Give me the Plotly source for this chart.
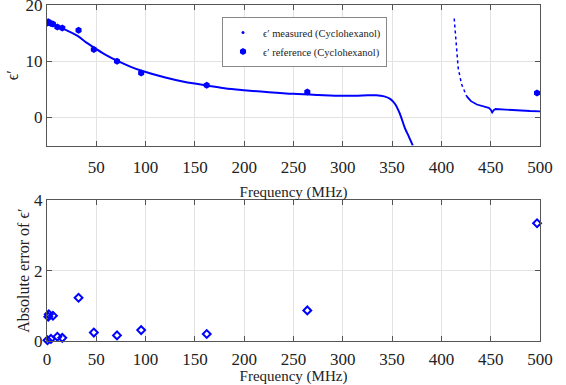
import plotly.graph_objects as go
from plotly.subplots import make_subplots

# Measured permittivity (dense sweep)
meas_freq_left = [0.5, 1, 5, 10, 20, 31, 40, 48, 60, 71, 85, 96, 120, 140, 162, 180, 200, 225,
                  250, 275, 300, 320, 334, 342, 348, 353, 358, 363, 367, 371]
meas_eps_left = [16.8, 16.9, 16.6, 16.2, 15.5, 14.5, 13.3, 12.4, 11.1, 10.1, 9.0, 8.3, 7.1, 6.3,
                 5.7, 5.2, 4.85, 4.5, 4.2, 4.0, 3.85, 3.9, 3.95, 3.75, 3.3, 2.4, 0.6, -1.9, -3.4, -5.0]
meas_freq_steep = [413, 414, 415.5, 417, 420.5, 425.5]
meas_eps_steep = [17.6, 15.0, 11.8, 8.8, 5.9, 3.8]
meas_freq_tail = [425.5, 430, 436, 442, 448, 450, 451.5, 453, 455, 465, 476, 490, 500]
meas_eps_tail = [3.8, 2.9, 2.3, 1.95, 1.7, 1.4, 0.9, 1.3, 1.5, 1.4, 1.25, 1.15, 1.1]

# Reference permittivity and absolute error
ref_freq = [0.5, 1.3, 1.8, 4.0, 6.0, 10.5, 15.5, 32, 47.5, 71, 95.5, 162, 264, 497]
ref_eps = [16.8, 17.0, 16.9, 16.7, 16.6, 16.1, 15.9, 15.5, 12.1, 10.0, 7.9, 5.75, 4.55, 4.35]
abs_err = [0.02, 0.69, 0.76, 0.06, 0.72, 0.12, 0.09, 1.23, 0.24, 0.16, 0.31, 0.20, 0.87, 3.35]

top_xticks = [50, 100, 150, 200, 250, 300, 350, 400, 450, 500]
bot_xticks = [0, 50, 100, 150, 200, 250, 300, 350, 400, 450, 500]

BLUE = "#0000ff"
FONT = "Liberation Serif"
TXT = "#222222"

fig = make_subplots(rows=2, cols=1, vertical_spacing=0.1632)

fig.add_trace(go.Scatter(x=meas_freq_left, y=meas_eps_left, mode="lines", line_shape="spline",
                         line=dict(color=BLUE, width=2), showlegend=False), row=1, col=1)
fig.add_trace(go.Scatter(x=meas_freq_steep, y=meas_eps_steep, mode="lines",
                         line=dict(color=BLUE, width=1.5, dash="dot"), showlegend=False), row=1, col=1)
fig.add_trace(go.Scatter(x=meas_freq_tail, y=meas_eps_tail, mode="lines",
                         line=dict(color=BLUE, width=1.8), showlegend=False), row=1, col=1)
# legend entry for measured (dot marker)
fig.add_trace(go.Scatter(x=[None], y=[None], mode="markers",
                         marker=dict(color=BLUE, size=3),
                         name="ϵ′ measured (Cyclohexanol)"), row=1, col=1)
fig.add_trace(go.Scatter(x=ref_freq, y=ref_eps, mode="markers",
                         marker=dict(color=BLUE, size=7, symbol="hexagon"),
                         name="ϵ′ reference (Cyclohexanol)"), row=1, col=1)
fig.add_trace(go.Scatter(x=ref_freq, y=abs_err, mode="markers", cliponaxis=False,
                         marker=dict(color=BLUE, size=6, symbol="diamond-open",
                                     line=dict(width=2, color=BLUE)),
                         showlegend=False), row=2, col=1)

axis_common = dict(showline=True, linecolor="#555555", linewidth=1, mirror="allticks",
                   ticks="inside", ticklen=5, tickcolor="#555555", automargin=False,
                   showgrid=True, gridcolor="#e3e3e3", gridwidth=1, zeroline=False,
                   ticklabeloverflow="allow",
                   tickfont=dict(family=FONT, size=17, color=TXT))

fig.update_xaxes(**axis_common)
fig.update_yaxes(**axis_common)

fig.update_xaxes(range=[0, 500], tickvals=top_xticks, ticklabelstandoff=6,
                 title=dict(text="Frequency (MHz)", font=dict(family=FONT, size=15, color=TXT),
                            standoff=10), row=1, col=1)
fig.update_yaxes(range=[-5, 20], tickvals=[0, 10, 20],
                 title=dict(text="ϵ′", font=dict(family=FONT, size=16, color=TXT),
                            standoff=2), row=1, col=1)
fig.update_xaxes(range=[0, 500], tickvals=bot_xticks, ticklabelstandoff=3,
                 title=dict(text="Frequency (MHz)", font=dict(family=FONT, size=15, color=TXT),
                            standoff=6), row=2, col=1)
fig.update_yaxes(range=[0, 4], tickvals=[0, 2, 4],
                 title=dict(text="Absolute error of ϵ′", font=dict(family=FONT, size=16, color=TXT),
                            standoff=0), row=2, col=1)

fig.update_layout(
    width=566, height=385,
    margin=dict(l=47, r=26, t=5, b=44),
    paper_bgcolor="white", plot_bgcolor="white",
    font=dict(family=FONT, color=TXT),
    legend=dict(x=0.355, y=0.964, xanchor="left", yanchor="top",
                bgcolor="white", bordercolor="#888888", borderwidth=1,
                font=dict(family=FONT, size=10.5, color=TXT),
                tracegroupgap=0, itemwidth=30),
)

fig.write_html("out.html", config={"displayModeBar": False},
               post_script="document.body.style.margin='0px';")
